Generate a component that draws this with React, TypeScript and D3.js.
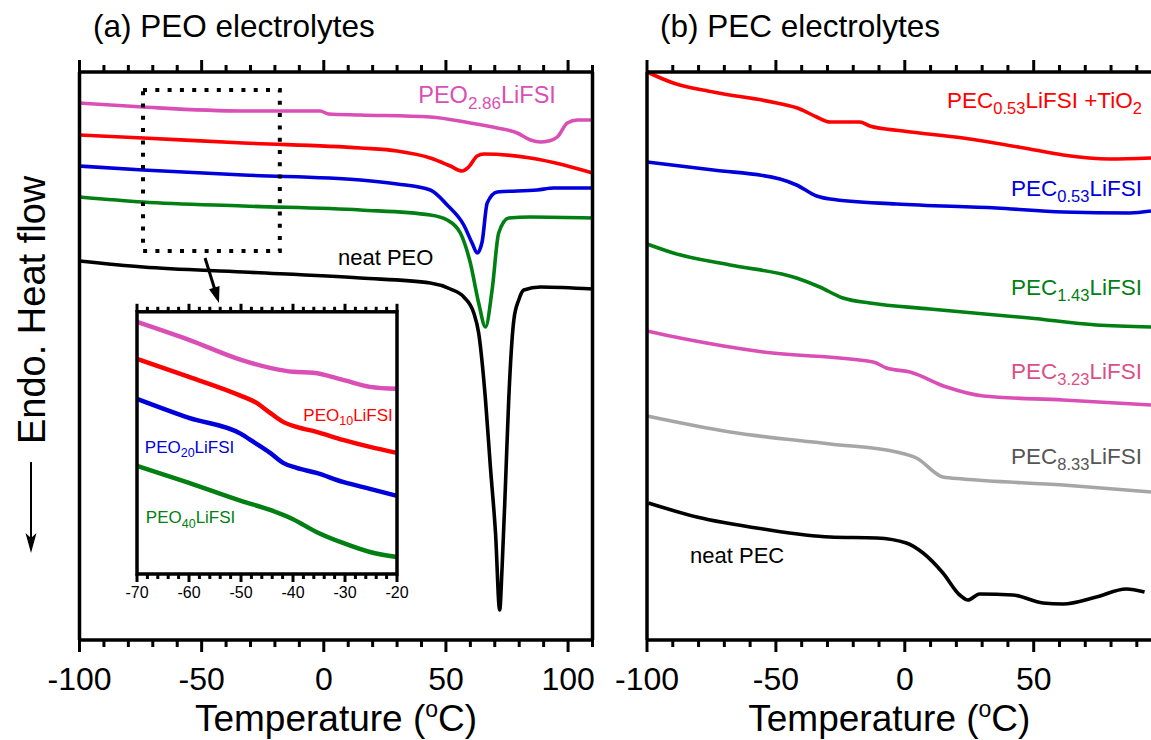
import React from 'react';
import * as d3 from 'd3';

type Pt = [number, number];

// ---- panel (a) PEO electrolytes: [temperature (°C), heat flow (a.u., offset)]
const peo286: Pt[] = [[-100, 53.7], [-74, 53.3], [-33, 52.9], [-1.5, 52.9], [2, 52.6], [15, 52.5], [43.6, 52.3], [60, 51.7], [71, 51.2], [79.2, 50.7], [84.6, 50], [88.7, 49.8], [92, 49.9], [95.6, 50.3], [99.7, 51.7], [103.8, 52], [110, 52]];
const peo10: Pt[] = [[-100, 50.5], [-74, 50.2], [-33, 49.7], [15, 49.2], [30, 48.9], [43.6, 48.2], [51.8, 47.4], [56.6, 46.9], [59.3, 47.3], [62.8, 48.4], [65.5, 48.6], [84.6, 48.2], [98.3, 47.5], [110, 46.7]];
const peo20: Pt[] = [[-100, 47.4], [-74, 47], [-33, 46.5], [15, 46], [30, 45.6], [43.6, 45], [50.5, 43.5], [57.3, 41.5], [60.7, 39.7], [62.8, 38.7], [64.8, 39.8], [66.9, 43.7], [71, 44.8], [87.4, 45], [94.2, 45.2], [110, 45.2]];
const peo40: Pt[] = [[-100, 44.3], [-74, 43.8], [-33, 43.4], [15, 43], [43.6, 42.5], [50.5, 42], [55.9, 40.7], [60, 37.7], [63.4, 33.7], [66.2, 31.3], [68.9, 35], [71.6, 40.7], [75.7, 42.2], [84.6, 42.3], [110, 42.2]];
const peoNeat: Pt[] = [[-100, 37.9], [-74, 37.3], [-33, 36.8], [15, 36.2], [43.6, 35.7], [51.8, 35.1], [57.3, 34.3], [61.4, 32.7], [63.4, 30.7], [66.2, 24], [68.2, 17.3], [70.3, 10.7], [72, 3], [73, 7.3], [74.4, 15.7], [75.7, 24], [77.8, 32], [79.8, 34], [81.9, 35], [88.7, 35.3], [110, 35.1]];

// ---- inset (-70 .. -20 °C)
const insPink: Pt[] = [[-70, 25.2], [-60, 23.4], [-50, 21.4], [-44.4, 20.6], [-40, 20.2], [-36.1, 20.1], [-30.4, 19.4], [-25.2, 18.7], [-20, 18.5]];
const insRed: Pt[] = [[-70, 21.5], [-60, 19.7], [-50, 17.8], [-47, 17.1], [-44.4, 16.1], [-41.9, 15.2], [-39.3, 14.7], [-35.5, 14.2], [-30.4, 13.4], [-25.2, 12.7], [-20, 12.1]];
const insBlue: Pt[] = [[-70, 17.5], [-60, 15.6], [-50, 14.0], [-47.6, 13.2], [-44.4, 12.1], [-41.9, 11.1], [-39.3, 10.6], [-35.5, 10.1], [-30.4, 9.2], [-25.2, 8.5], [-20, 7.8]];
const insGreen: Pt[] = [[-70, 10.8], [-60, 9.1], [-50, 7.3], [-44.4, 6.4], [-40.1, 5.5], [-35.5, 4.2], [-30.4, 3.1], [-25.2, 2.2], [-20, 1.7]];

// ---- panel (b) PEC electrolytes
const pecTiO2: Pt[] = [[-100, 56.8], [-89.8, 55.7], [-74.3, 54.8], [-49.7, 53.7], [-40.7, 53.1], [-34.2, 52.3], [-29, 51.8], [-17.4, 51.8], [-13.6, 51.4], [-0.7, 50.9], [22.6, 50.2], [48.4, 49.1], [61.4, 48.5], [79.5, 48.1], [95.5, 48.2]];
const pec053: Pt[] = [[-100, 47.8], [-74.3, 47], [-48.4, 46.1], [-42, 45.5], [-34.2, 44.4], [-29, 44.1], [-3.2, 43.6], [35.5, 43.2], [61.4, 42.8], [87.2, 42.7], [95.5, 42.9]];
const pec143: Pt[] = [[-100, 39.6], [-89.8, 38.7], [-67.8, 37.5], [-42, 36.2], [-33, 35.3], [-24, 34.2], [-13.6, 33.7], [9.7, 33.1], [48.4, 32.2], [74.3, 31.5], [95.5, 31.3]];
const pec323: Pt[] = [[-100, 30.9], [-87.2, 30.2], [-54.9, 28.8], [-12.3, 27.8], [-7.1, 27.2], [2, 26.8], [16.2, 25.3], [30.4, 24.4], [61.4, 24], [95.5, 23.5]];
const pec833: Pt[] = [[-100, 22.4], [-67.8, 20.8], [-29, 19.6], [-3.2, 18.8], [4.5, 18.2], [14.8, 16.3], [22.6, 16.1], [61.4, 15.5], [95.5, 14.8]];
const pecNeat: Pt[] = [[-99.5, 13.7], [-80.7, 12.3], [-54.9, 11.1], [-29, 10.3], [-11, 10.2], [0.6, 9.7], [7.1, 8.7], [14.8, 6.7], [21.3, 4.5], [24.5, 4], [29, 4.6], [41.9, 4.5], [53.6, 3.7], [61.4, 3.6], [74.3, 4.3], [85.9, 5.1], [93, 4.8]];

const majorLabelsA = [-100, -50, 0, 50, 100];
const majorLabelsB = [-100, -50, 0, 50];
const insetLabels = [-70, -60, -50, -40, -30, -20];

const PINK = '#d94fb6';
const RED = '#ff0000';
const BLUE = '#0000dd';
const GREEN = '#007f12';
const GRAY = '#a6a6a6';
const FONT = '"Liberation Sans", Arial, Helvetica, sans-serif';

const xA = d3.scaleLinear().domain([-100, 110]).range([79.5, 592.5]);
const xB = d3.scaleLinear().domain([-100, 95.5]).range([647, 1151]);
const y = d3.scaleLinear().domain([0, 56.8]).range([640, 72]);
const xIn = d3.scaleLinear().domain([-70, -20]).range([137, 397]);
const yIn = d3.scaleLinear().domain([0, 26.2]).range([574, 311.8]);

const lineA = d3.line<Pt>().x((d) => xA(d[0])).y((d) => y(d[1])).curve(d3.curveMonotoneX);
const lineB = d3.line<Pt>().x((d) => xB(d[0])).y((d) => y(d[1])).curve(d3.curveMonotoneX);
const lineIn = d3.line<Pt>().x((d) => xIn(d[0])).y((d) => yIn(d[1])).curve(d3.curveMonotoneX);

function SubLabel({ x, y: yy, parts, color, size, sub, anchor = 'start' }: any) {
  // parts alternate: normal text, subscript, normal text, subscript...
  return (
    <text x={x} y={yy} fill={color} fontSize={size} textAnchor={anchor} fontFamily={FONT}>
      {parts.map((p: string, i: number) =>
        i % 2 === 1 ? (
          <tspan key={i} fontSize={sub} dy={size * 0.27}>{p}</tspan>
        ) : (
          <tspan key={i} dy={i === 0 ? 0 : -size * 0.27}>{p}</tspan>
        )
      )}
    </text>
  );
}

function BottomTopTicks({ scale, ticks, yTop, yBot, major, minor, isMajor }: any) {
  return (
    <g stroke="#000" strokeWidth={3}>
      {ticks.map((t: number) => {
        const len = isMajor(t) ? major : minor;
        const x = scale(t);
        return (
          <g key={t}>
            <line x1={x} x2={x} y1={yTop} y2={yTop - len} />
            <line x1={x} x2={x} y1={yBot} y2={yBot + len} />
          </g>
        );
      })}
    </g>
  );
}

export default function App() {
  const ticksA = d3.range(-100, 111, 10);
  const ticksB = d3.range(-100, 91, 10);
  const ticksIn = d3.range(-70, -19, 2);
  const top = y(56.8);
  const bot = y(0);

  // zoom box and arrow (data coordinates of panel a)
  const bx0 = xA(-74), bx1 = xA(-18), by0 = y(55), by1 = y(38.9);
  const ax0 = xA(-48.6), ay0 = y(38.2), ax1 = xA(-42.9), ay1 = y(33.7);
  const ang = Math.atan2(ay1 - ay0, ax1 - ax0);
  const head = (l: number, w: number) => {
    const bx = ax1 - l * Math.cos(ang), by = ay1 - l * Math.sin(ang);
    const px = -Math.sin(ang) * w, py = Math.cos(ang) * w;
    return `M${ax1},${ay1}L${bx + px},${by + py}L${bx - px},${by - py}Z`;
  };

  return (
    <svg width={1151} height={740} style={{ position: 'absolute', left: 0, top: 0, background: '#fff' }} fontFamily={FONT}>
      {/* titles */}
      <text x={93} y={37} fontSize={31.5}>(a) PEO electrolytes</text>
      <text x={660} y={37} fontSize={31.5}>(b) PEC electrolytes</text>

      {/* y label */}
      <text transform="translate(45,444) rotate(-90)" fontSize={38}>Endo. Heat flow</text>
      <line x1={31} x2={31} y1={462} y2={545} stroke="#000" strokeWidth={2} />
      <path d="M31,553L25.5,533L31,538L36.5,533Z" fill="#000" />

      {/* ---------- panel a ---------- */}
      <g fill="none" strokeLinejoin="round">
        <path d={lineA(peo286)!} stroke={PINK} strokeWidth={3.6} />
        <path d={lineA(peo10)!} stroke={RED} strokeWidth={3.6} />
        <path d={lineA(peo20)!} stroke={BLUE} strokeWidth={3.6} />
        <path d={lineA(peo40)!} stroke={GREEN} strokeWidth={3.6} />
        <path d={lineA(peoNeat)!} stroke="#000" strokeWidth={3.6} />
      </g>
      <rect x={bx0} y={by0} width={bx1 - bx0} height={by1 - by0} fill="none" stroke="#000" strokeWidth={4} strokeDasharray="4 8.3" />
      <line x1={ax0} y1={ay0} x2={ax1 - 10 * Math.cos(ang)} y2={ay1 - 10 * Math.sin(ang)} stroke="#000" strokeWidth={3} />
      <path d={head(16, 5.5)} fill="#000" />

      <SubLabel x={xA(95)} y={y(53.7)} parts={['PEO', '2.86', 'LiFSI']} color={PINK} size={23.5} sub={17} anchor="end" />
      <text x={xA(5.8)} y={y(37.5)} fontSize={22} fill="#000">neat PEO</text>

      <g stroke="#000" strokeWidth={3.5} fill="none">
        <line x1={xA(-100)} x2={xA(110)} y1={top} y2={top} />
        <line x1={xA(-100)} x2={xA(110)} y1={bot} y2={bot} />
        <line x1={xA(-100)} x2={xA(-100)} y1={top} y2={bot} />
        <line x1={xA(110)} x2={xA(110)} y1={top} y2={bot} />
      </g>
      <BottomTopTicks scale={xA} ticks={ticksA} yTop={top} yBot={bot} major={12} minor={7} isMajor={(t: number) => t % 50 === 0} />
      {majorLabelsA.map((t) => (
        <text key={t} x={xA(t)} y={690} fontSize={32} textAnchor="middle">{t}</text>
      ))}
      <text x={xA(5)} y={731} fontSize={37} textAnchor="middle">
        Temperature (<tspan fontSize={23} dy={-14}>o</tspan><tspan dy={14}>C)</tspan>
      </text>

      {/* inset */}
      <rect x={xIn(-70)} y={yIn(26.2)} width={xIn(-20) - xIn(-70)} height={yIn(0) - yIn(26.2)} fill="#fff" />
      <g fill="none" strokeLinejoin="round">
        <path d={lineIn(insPink)!} stroke={PINK} strokeWidth={4.5} />
        <path d={lineIn(insRed)!} stroke={RED} strokeWidth={4.5} />
        <path d={lineIn(insBlue)!} stroke={BLUE} strokeWidth={4.5} />
        <path d={lineIn(insGreen)!} stroke={GREEN} strokeWidth={4.5} />
      </g>
      <SubLabel x={xIn(-20.8)} y={yIn(15.3)} parts={['PEO', '10', 'LiFSI']} color={RED} size={17} sub={12.5} anchor="end" />
      <SubLabel x={xIn(-68.5)} y={yIn(12.1)} parts={['PEO', '20', 'LiFSI']} color={BLUE} size={17} sub={12.5} />
      <SubLabel x={xIn(-68.3)} y={yIn(5.1)} parts={['PEO', '40', 'LiFSI']} color={GREEN} size={17} sub={12.5} />
      <g stroke="#000" strokeWidth={3.5} fill="none">
        <rect x={xIn(-70)} y={yIn(26.2)} width={xIn(-20) - xIn(-70)} height={yIn(0) - yIn(26.2)} />
      </g>
      <BottomTopTicks scale={xIn} ticks={ticksIn} yTop={yIn(26.2)} yBot={yIn(0)} major={8} minor={5} isMajor={(t: number) => t % 10 === 0} />
      {insetLabels.map((t) => (
        <text key={t} x={xIn(t)} y={598} fontSize={16} textAnchor="middle">{t}</text>
      ))}

      {/* ---------- panel b ---------- */}
      <g fill="none" strokeLinejoin="round">
        <path d={lineB(pecTiO2)!} stroke={RED} strokeWidth={3.6} />
        <path d={lineB(pec053)!} stroke={BLUE} strokeWidth={3.6} />
        <path d={lineB(pec143)!} stroke={GREEN} strokeWidth={3.6} />
        <path d={lineB(pec323)!} stroke={PINK} strokeWidth={3.6} />
        <path d={lineB(pec833)!} stroke={GRAY} strokeWidth={3.6} />
        <path d={lineB(pecNeat)!} stroke="#000" strokeWidth={3.6} />
      </g>
      <SubLabel x={xB(92)} y={y(53.2)} parts={['PEC', '0.53', 'LiFSI +TiO', '2']} color={RED} size={22.5} sub={16.5} anchor="end" />
      <SubLabel x={xB(92)} y={y(44.4)} parts={['PEC', '0.53', 'LiFSI']} color={BLUE} size={22.5} sub={16.5} anchor="end" />
      <SubLabel x={xB(92)} y={y(34.5)} parts={['PEC', '1.43', 'LiFSI']} color={GREEN} size={22.5} sub={16.5} anchor="end" />
      <SubLabel x={xB(92)} y={y(26.1)} parts={['PEC', '3.23', 'LiFSI']} color="#dc4f86" size={22.5} sub={16.5} anchor="end" />
      <SubLabel x={xB(92)} y={y(17.6)} parts={['PEC', '8.33', 'LiFSI']} color="#555555" size={22.5} sub={16.5} anchor="end" />
      <text x={xB(-83.3)} y={y(7.7)} fontSize={22} fill="#000">neat PEC</text>

      <g stroke="#000" strokeWidth={3.5} fill="none">
        <line x1={xB(-100)} x2={xB(95.5)} y1={top} y2={top} />
        <line x1={xB(-100)} x2={xB(95.5)} y1={bot} y2={bot} />
        <line x1={xB(-100)} x2={xB(-100)} y1={top} y2={bot} />
      </g>
      <BottomTopTicks scale={xB} ticks={ticksB} yTop={top} yBot={bot} major={12} minor={7} isMajor={(t: number) => t % 50 === 0} />
      {majorLabelsB.map((t) => (
        <text key={t} x={xB(t)} y={690} fontSize={32} textAnchor="middle">{t}</text>
      ))}
      <text x={xB(-6)} y={731} fontSize={37} textAnchor="middle">
        Temperature (<tspan fontSize={23} dy={-14}>o</tspan><tspan dy={14}>C)</tspan>
      </text>
    </svg>
  );
}
